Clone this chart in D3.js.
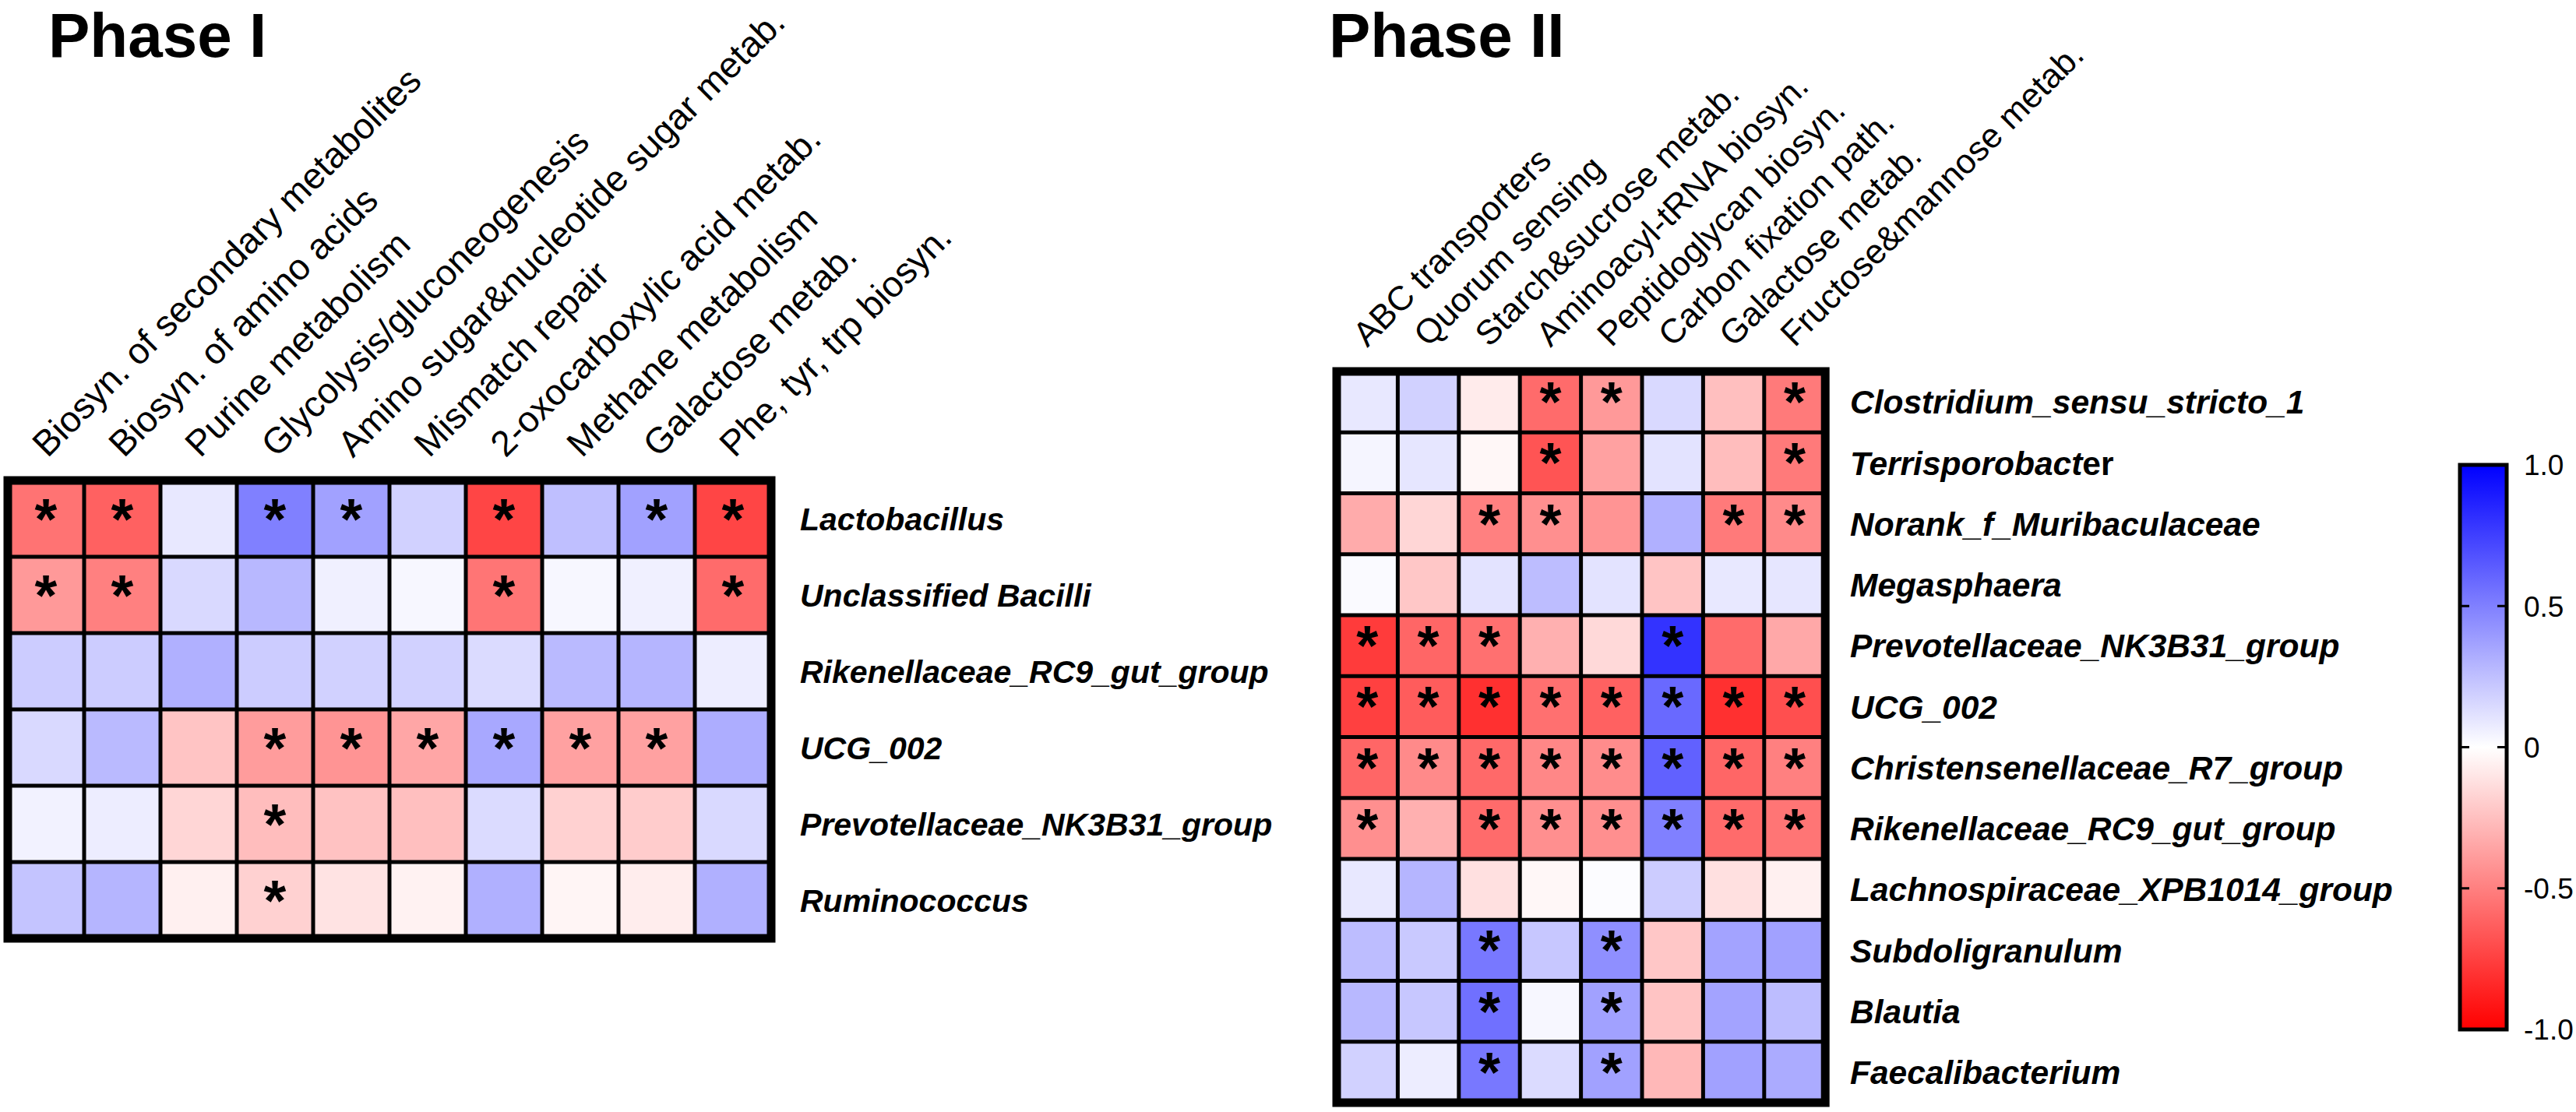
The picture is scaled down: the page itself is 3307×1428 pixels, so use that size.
<!DOCTYPE html>
<html><head><meta charset="utf-8">
<script src="https://cdn.jsdelivr.net/npm/d3@7/dist/d3.min.js"></script>
<style>html,body{margin:0;padding:0;background:#fff;} svg{display:block;}</style>
</head><body>
<svg id="chart" width="3307" height="1428"></svg>
<script>
// ---------------- DATA ----------------
const phase1Pathways = ["Biosyn. of secondary metabolites","Biosyn. of amino acids","Purine metabolism",
  "Glycolysis/gluconeogenesis","Amino sugar&nucleotide sugar metab.","Mismatch repair",
  "2-oxocarboxylic acid metab.","Methane metabolism","Galactose metab.","Phe, tyr, trp biosyn."];
const phase1Taxa = ["Lactobacillus","Unclassified Bacilli","Rikenellaceae_RC9_gut_group","UCG_002",
  "Prevotellaceae_NK3B31_group","Ruminococcus"];
const phase1Values = [
  [-0.55,-0.62, 0.09, 0.50, 0.37, 0.18,-0.73, 0.25, 0.37,-0.73],
  [-0.40,-0.50, 0.15, 0.28, 0.06, 0.03,-0.54, 0.03, 0.06,-0.58],
  [ 0.20, 0.20, 0.31, 0.20, 0.18, 0.18, 0.14, 0.27, 0.29, 0.07],
  [ 0.15, 0.27,-0.23,-0.39,-0.42,-0.35, 0.34,-0.37,-0.37, 0.32],
  [ 0.05, 0.07,-0.16,-0.26,-0.24,-0.25, 0.14,-0.18,-0.20, 0.15],
  [ 0.23, 0.29,-0.06,-0.18,-0.11,-0.05, 0.31,-0.04,-0.07, 0.31]
];
const phase1Stars = [
  [1,1,0,1,1,0,1,0,1,1],
  [1,1,0,0,0,0,1,0,0,1],
  [0,0,0,0,0,0,0,0,0,0],
  [0,0,0,1,1,1,1,1,1,0],
  [0,0,0,1,0,0,0,0,0,0],
  [0,0,0,1,0,0,0,0,0,0]
];

const phase2Pathways = ["ABC transporters","Quorum sensing","Starch&sucrose metab.","Aminoacyl-tRNA biosyn.",
  "Peptidoglycan biosyn.","Carbon fixation path.","Galactose metab.","Fructose&mannose metab."];
const phase2Taxa = ["Clostridium_sensu_stricto_1","Terrisporobacter","Norank_f_Muribaculaceae","Megasphaera",
  "Prevotellaceae_NK3B31_group","UCG_002","Christensenellaceae_R7_group","Rikenellaceae_RC9_gut_group",
  "Lachnospiraceae_XPB1014_group","Subdoligranulum","Blautia","Faecalibacterium"];
const phase2Values = [
  [ 0.09, 0.18,-0.08,-0.58,-0.40, 0.15,-0.25,-0.52],
  [ 0.04, 0.10,-0.03,-0.67,-0.37, 0.11,-0.26,-0.52],
  [-0.33,-0.16,-0.50,-0.44,-0.42, 0.31,-0.52,-0.46],
  [ 0.02,-0.22, 0.11, 0.26, 0.11,-0.23, 0.09, 0.10],
  [-0.77,-0.60,-0.56,-0.31,-0.15, 0.80,-0.58,-0.34],
  [-0.75,-0.64,-0.81,-0.56,-0.62, 0.59,-0.81,-0.69],
  [-0.60,-0.46,-0.59,-0.47,-0.45, 0.62,-0.60,-0.50],
  [-0.44,-0.31,-0.58,-0.44,-0.44, 0.50,-0.58,-0.54],
  [ 0.09, 0.29,-0.12,-0.03, 0.01, 0.20,-0.12,-0.06],
  [ 0.26, 0.21, 0.53, 0.22, 0.44,-0.22, 0.36, 0.37],
  [ 0.28, 0.22, 0.56, 0.03, 0.37,-0.23, 0.36, 0.26],
  [ 0.18, 0.07, 0.53, 0.14, 0.37,-0.28, 0.37, 0.33]
];
const phase2Stars = [
  [0,0,0,1,1,0,0,1],
  [0,0,0,1,0,0,0,1],
  [0,0,1,1,0,0,1,1],
  [0,0,0,0,0,0,0,0],
  [1,1,1,0,0,1,0,0],
  [1,1,1,1,1,1,1,1],
  [1,1,1,1,1,1,1,1],
  [1,0,1,1,1,1,1,1],
  [0,0,0,0,0,0,0,0],
  [0,0,1,0,1,0,0,0],
  [0,0,1,0,1,0,0,0],
  [0,0,1,0,1,0,0,0]
];

const colorbarTicks = [1, 0.5, 0, -0.5, -1];
const colorbarTickLabels = ["1.0", "0.5", "0", "-0.5", "-1.0"];
const panelTitles = ["Phase I", "Phase II"];

// ---------------- DRAWING ----------------
const FONT = "'Liberation Sans', Arial, Helvetica, sans-serif";
const svg = d3.select("#chart");
const color = d3.scaleLinear().domain([-1, 0, 1]).range(["#ff0000", "#ffffff", "#0000ff"]).clamp(true);

function drawHeatmap(cfg) {
  const { pathways, taxa, values, stars, x0, y0, cellW, cellH } = cfg;
  const x = d3.scaleBand().domain(pathways).range([x0, x0 + cellW * pathways.length]);
  const y = d3.scaleBand().domain(taxa).range([y0, y0 + cellH * taxa.length]);
  const g = svg.append("g");
  const cells = [];
  taxa.forEach((t, i) => pathways.forEach((p, j) => cells.push({ t, p, v: values[i][j], s: stars[i][j] })));

  g.selectAll("rect.cell").data(cells).join("rect").attr("class", "cell")
    .attr("x", d => x(d.p)).attr("y", d => y(d.t))
    .attr("width", x.bandwidth()).attr("height", y.bandwidth())
    .attr("fill", d => color(d.v));

  // inner grid lines
  g.selectAll("line.v").data(pathways.slice(1)).join("line").attr("class", "v")
    .attr("x1", d => x(d)).attr("x2", d => x(d))
    .attr("y1", y0).attr("y2", y0 + cellH * taxa.length)
    .attr("stroke", "#000").attr("stroke-width", cfg.gridW);
  g.selectAll("line.h").data(taxa.slice(1)).join("line").attr("class", "h")
    .attr("y1", d => y(d)).attr("y2", d => y(d))
    .attr("x1", x0).attr("x2", x0 + cellW * pathways.length)
    .attr("stroke", "#000").attr("stroke-width", cfg.gridW);
  // outer frame
  g.append("rect").attr("x", x0).attr("y", y0)
    .attr("width", cellW * pathways.length).attr("height", cellH * taxa.length)
    .attr("fill", "none").attr("stroke", "#000").attr("stroke-width", cfg.frameW);

  // stars
  const st = g.selectAll("text.star").data(cells.filter(d => d.s)).join("text").attr("class", "star")
    .attr("x", d => x(d.p) + x.bandwidth() / 2).attr("y", d => y(d.t) + y.bandwidth() / 2)
    .attr("text-anchor", "middle").attr("font-family", FONT).attr("font-weight", "bold")
    .attr("font-size", cfg.starSize).attr("fill", "#000").text("*");
  st.each(function (d) {
    const b = this.getBBox();
    const cy = y(d.t) + y.bandwidth() / 2;
    d3.select(this).attr("y", +d3.select(this).attr("y") + (cy - (b.y + b.height / 2)));
  });

  // row labels
  const rl = g.selectAll("text.row").data(taxa).join("text").attr("class", "row")
    .attr("x", cfg.labelX).attr("y", d => y(d) + y.bandwidth() / 2).attr("dy", "0.36em")
    .attr("font-family", FONT).attr("font-weight", "bold").attr("font-style", "italic")
    .attr("font-size", cfg.rowFont).attr("fill", "#000");
  rl.each(function (d) {
    const sel = d3.select(this);
    if (d === "Terrisporobacter") {
      sel.append("tspan").text("Terrisporobact");
      sel.append("tspan").attr("font-style", "normal").text("er");
    } else sel.text(d);
  });

  // column labels
  g.selectAll("text.col").data(pathways).join("text").attr("class", "col")
    .attr("transform", d => `translate(${x(d) + x.bandwidth() / 2 + cfg.colDx},${y0 - cfg.colGap}) rotate(-45)`)
    .attr("font-family", FONT).attr("font-size", cfg.colFont).attr("fill", "#000")
    .text(d => d);

  // title
  g.append("text").attr("x", cfg.titleX).attr("y", cfg.titleY)
    .attr("font-family", FONT).attr("font-weight", "bold").attr("font-size", cfg.titleSize)
    .attr("fill", "#000").text(cfg.title);
}

drawHeatmap({
  pathways: phase1Pathways, taxa: phase1Taxa, values: phase1Values, stars: phase1Stars,
  x0: 10, y0: 617, cellW: 98, cellH: 98, gridW: 5, frameW: 11,
  starSize: 74, rowFont: 41, colFont: 46.5, colDx: 2, colGap: 28, labelX: 1027,
  title: panelTitles[0], titleX: 62, titleY: 73, titleSize: 80
});
drawHeatmap({
  pathways: phase2Pathways, taxa: phase2Taxa, values: phase2Values, stars: phase2Stars,
  x0: 1716, y0: 477, cellW: 78.4, cellH: 78.25, gridW: 5, frameW: 11,
  starSize: 72, rowFont: 42.5, colFont: 44, colDx: 0, colGap: 30, labelX: 2375,
  title: panelTitles[1], titleX: 1706, titleY: 73, titleSize: 80
});

// ---------------- COLORBAR ----------------
const cb = { x: 3158, w: 60, top: 597, bottom: 1322 };
const cbScale = d3.scaleLinear().domain([-1, 1]).range([cb.bottom, cb.top]);
const defs = svg.append("defs");
const grad = defs.append("linearGradient").attr("id", "cbgrad")
  .attr("x1", 0).attr("y1", 1).attr("x2", 0).attr("y2", 0);
d3.range(-1, 1.0001, 0.1).forEach(v => {
  grad.append("stop").attr("offset", ((v + 1) / 2)).attr("stop-color", color(v));
});
const cbg = svg.append("g");
cbg.append("rect").attr("x", cb.x).attr("y", cb.top).attr("width", cb.w)
  .attr("height", cb.bottom - cb.top).attr("fill", "url(#cbgrad)")
  .attr("stroke", "#000").attr("stroke-width", 5);
const inner = colorbarTicks.filter(t => t > -1 && t < 1);
cbg.selectAll("line.tl").data(inner).join("line")
  .attr("x1", cb.x).attr("x2", cb.x + 12).attr("y1", d => cbScale(d)).attr("y2", d => cbScale(d))
  .attr("stroke", "#000").attr("stroke-width", 3);
cbg.selectAll("line.tr").data(inner).join("line")
  .attr("x1", cb.x + cb.w - 12).attr("x2", cb.x + cb.w).attr("y1", d => cbScale(d)).attr("y2", d => cbScale(d))
  .attr("stroke", "#000").attr("stroke-width", 3);
cbg.selectAll("text.cbl").data(colorbarTicks).join("text")
  .attr("x", 3240).attr("y", d => cbScale(d)).attr("dy", "0.36em")
  .attr("font-family", FONT).attr("font-size", 37).attr("fill", "#000")
  .text((d, i) => colorbarTickLabels[i]);
</script>
</body></html>
